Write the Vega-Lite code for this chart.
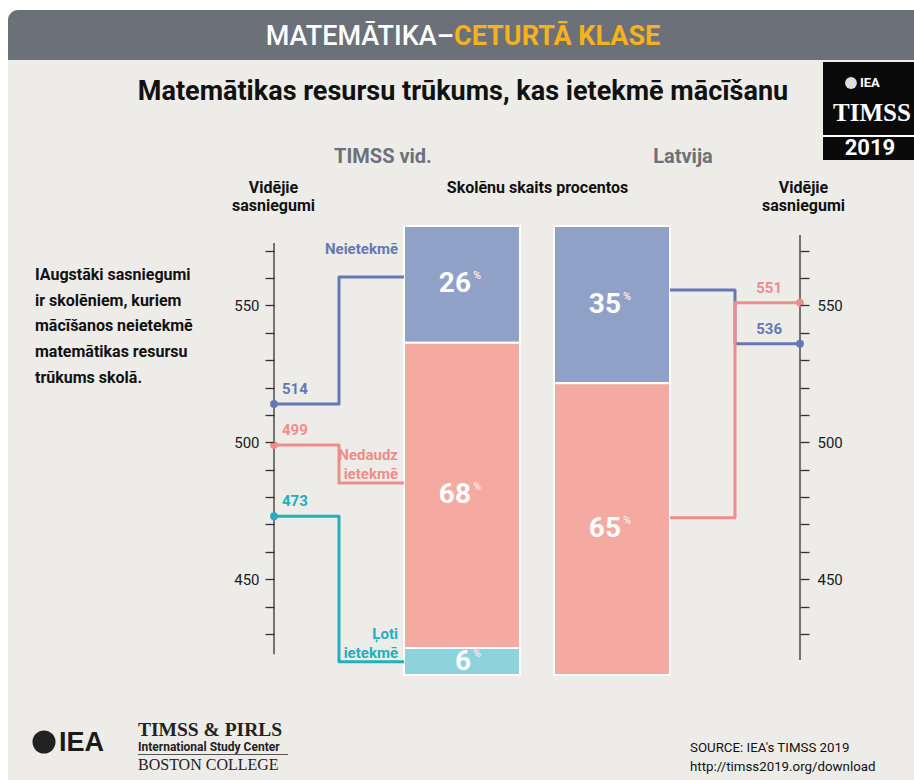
{
  "$schema": "https://vega.github.io/schema/vega-lite/v6.json",
  "width": 526,
  "height": 449,
  "autosize": {"type": "none"},
  "padding": {"left": 274, "top": 226, "right": 114, "bottom": 105},
  "background": "#ffffff",
  "config": {"view": {"stroke": null}, "font": "Roboto", "axis": {"labelFont": "Roboto", "titleFont": "Roboto", "zindex": 1}},
  "datasets": {
    "groups": [
      {"group": "TIMSS vid.", "category": "Neietekmē", "level": 0, "pct": 26, "score": 514, "anchor": 560.4},
      {"group": "TIMSS vid.", "category": "Nedaudz ietekmē", "level": 1, "pct": 68, "score": 499, "anchor": 485.1},
      {"group": "TIMSS vid.", "category": "Ļoti ietekmē", "level": 2, "pct": 6, "score": 473, "anchor": 419.8},
      {"group": "Latvija", "category": "Neietekmē", "level": 0, "pct": 35, "score": 536, "anchor": 555.6},
      {"group": "Latvija", "category": "Nedaudz ietekmē", "level": 1, "pct": 65, "score": 551, "anchor": 472.4}
    ]
  },
  "resolve": {"scale": {"x": "independent", "y": "independent", "color": "independent"}},
  "layer": [
    {"data": {"values": [{}]}, "mark": {"type": "rect", "x": -266, "x2": 640, "y": -166, "y2": 554, "color": "#edece8"}, "encoding": {}},
    {"data": {"values": [{}]}, "mark": {"type": "rect", "x": -266, "x2": 640, "y": -216, "y2": -166, "color": "#6c7079", "cornerRadiusTopLeft": 10}, "encoding": {}},
    {"data": {"values": [{}]}, "mark": {"type": "text", "x": 180, "y": -189, "align": "right", "baseline": "middle", "text": "MATEMĀTIKA–", "color": "#ffffff", "fontSize": 27, "fontWeight": 500}, "encoding": {}},
    {"data": {"values": [{}]}, "mark": {"type": "text", "x": 180, "y": -189, "align": "left", "baseline": "middle", "text": "CETURTĀ KLASE", "color": "#f5b21d", "fontSize": 27, "fontWeight": "bold"}, "encoding": {}},
    {"data": {"values": [{}]}, "mark": {"type": "text", "x": 189, "y": -134, "align": "center", "baseline": "middle", "text": "Matemātikas resursu trūkums, kas ietekmē mācīšanu", "color": "#111111", "fontSize": 27, "fontWeight": "bold"}, "encoding": {}},
    {"data": {"values": [{}]}, "mark": {"type": "rect", "x": 549, "x2": 640, "y": -164, "y2": -66, "color": "#0a0a0a"}, "encoding": {}},
    {"data": {"values": [{}]}, "mark": {"type": "rect", "x": 549, "x2": 640, "y": -91, "y2": -89, "color": "#ffffff"}, "encoding": {}},
    {"data": {"values": [{}]}, "mark": {"type": "point", "shape": "circle", "filled": true, "size": 140, "opacity": 1, "x": 577, "y": -143, "color": "#dddddd"}, "encoding": {}},
    {"data": {"values": [{}]}, "mark": {"type": "text", "x": 586, "y": -143, "align": "left", "baseline": "middle", "text": "IEA", "color": "#ffffff", "fontSize": 13, "fontWeight": "bold"}, "encoding": {}},
    {"data": {"values": [{}]}, "mark": {"type": "text", "x": 598, "y": -113, "align": "center", "baseline": "middle", "text": "TIMSS", "font": "Liberation Serif", "color": "#ffffff", "fontSize": 25, "fontWeight": "bold"}, "encoding": {}},
    {"data": {"values": [{}]}, "mark": {"type": "text", "x": 596, "y": -78, "align": "center", "baseline": "middle", "text": "2019", "color": "#ffffff", "fontSize": 22, "fontWeight": "bold"}, "encoding": {}},
    {"data": {"values": [{}]}, "mark": {"type": "text", "x": -239, "y": 49, "align": "left", "baseline": "middle", "lineHeight": 25.7, "text": ["IAugstāki sasniegumi", "ir skolēniem, kuriem", "mācīšanos neietekmē", "matemātikas resursu", "trūkums skolā."], "color": "#111111", "fontSize": 16, "fontWeight": "bold"}, "encoding": {}},
    {"data": {"values": [{}]}, "mark": {"type": "point", "shape": "circle", "filled": true, "size": 530, "opacity": 1, "x": -230, "y": 516, "color": "#222222"}, "encoding": {}},
    {"data": {"values": [{}]}, "mark": {"type": "text", "x": -215, "y": 517, "align": "left", "baseline": "middle", "text": "IEA", "font": "Liberation Sans", "color": "#1a1a1a", "fontSize": 27, "fontWeight": "bold"}, "encoding": {}},
    {"data": {"values": [{}]}, "mark": {"type": "text", "x": -136, "y": 504, "align": "left", "baseline": "middle", "text": "TIMSS & PIRLS", "font": "Liberation Serif", "color": "#222222", "fontSize": 19.5, "fontWeight": "bold"}, "encoding": {}},
    {"data": {"values": [{}]}, "mark": {"type": "text", "x": -136, "y": 521, "align": "left", "baseline": "middle", "text": "International Study Center", "color": "#222222", "fontSize": 12, "fontWeight": "bold"}, "encoding": {}},
    {"data": {"values": [{}]}, "mark": {"type": "rect", "x": -136, "x2": 14, "y": 528, "y2": 529, "color": "#555555"}, "encoding": {}},
    {"data": {"values": [{}]}, "mark": {"type": "text", "x": -136, "y": 539, "align": "left", "baseline": "middle", "text": "BOSTON COLLEGE", "font": "Liberation Serif", "color": "#222222", "fontSize": 16}, "encoding": {}},
    {"data": {"values": [{}]}, "mark": {"type": "text", "x": 416, "y": 522, "align": "left", "baseline": "middle", "lineHeight": 19, "text": ["SOURCE: IEA's TIMSS 2019", "http://timss2019.org/download"], "color": "#111111", "fontSize": 13.3}, "encoding": {}},
    {
      "data": {"name": "groups"},
      "transform": [{"stack": "pct", "groupby": ["group"], "sort": [{"field": "level", "order": "descending"}], "as": ["p0", "p1"]}],
      "layer": [
        {
          "mark": {"type": "bar", "stroke": "#ffffff", "strokeWidth": 2},
          "encoding": {
            "x": {"field": "group", "type": "nominal", "scale": {"type": "band", "domain": ["TIMSS vid.", "Latvija"], "paddingInner": 0.2267, "paddingOuter": 0.8667},
              "axis": {"orient": "top", "title": "Skolēnu skaits procentos", "domain": false, "ticks": false, "grid": false, "labelAngle": 0, "labelFontSize": 20, "labelFontWeight": "bold", "labelColor": "#6e7179", "labelPadding": 70, "labelBaseline": "middle", "labelOffset": {"condition": {"test": "datum.value === 'Latvija'", "value": 71}, "value": -79}, "titleFontSize": 16, "titleFontWeight": "bold", "titleColor": "#111111", "titleX": 263, "titleY": -39, "titleBaseline": "middle", "titleAlign": "center", "zindex": 1}},
            "y": {"field": "p0", "type": "quantitative", "scale": {"domain": [0, 100], "nice": false}, "axis": null},
            "y2": {"field": "p1"},
            "color": {"field": "category", "type": "nominal", "scale": {"domain": ["Neietekmē", "Nedaudz ietekmē", "Ļoti ietekmē"], "range": ["#8fa1c7", "#f4a9a1", "#8ed2dc"]}, "legend": null}
          }
        },
        {
          "transform": [{"fold": ["p0", "p1"], "as": ["edge", "p"]}],
          "mark": {"type": "text", "align": "right", "baseline": "middle", "dx": 9, "color": "#ffffff", "fontSize": 28, "fontWeight": "bold"},
          "encoding": {
            "x": {"field": "group", "type": "nominal"},
            "y": {"aggregate": "mean", "field": "p", "type": "quantitative"},
            "text": {"field": "pct", "type": "quantitative"},
            "detail": {"field": "category", "type": "nominal"}
          }
        },
        {
          "transform": [{"fold": ["p0", "p1"], "as": ["edge", "p"]}],
          "mark": {"type": "text", "align": "left", "baseline": "middle", "dx": 11, "dy": -8, "color": "#fbe4e0", "fontSize": 11, "fontWeight": "bold", "text": "%"},
          "encoding": {
            "x": {"field": "group", "type": "nominal"},
            "y": {"aggregate": "mean", "field": "p", "type": "quantitative"},
            "detail": {"field": "category", "type": "nominal"}
          }
        }
      ]
    },
    {
      "data": {"name": "groups"},
      "transform": [{"filter": "datum.group === 'TIMSS vid.'"}, {"fold": ["score", "anchor"], "as": ["end", "value"]}],
      "encoding": {
        "x": {"field": "end", "type": "nominal", "scale": {"type": "point", "domain": ["score", "anchor"], "range": [0, 130], "padding": 0}, "axis": null},
        "y": {"field": "value", "type": "quantitative", "scale": {"domain": [415, 579], "nice": false, "zero": false},
          "axis": {"orient": "left", "zindex": 1, "values": [430, 440, 450, 460, 470, 480, 490, 500, 510, 520, 530, 540, 550, 560, 570], "labelExpr": "datum.value % 50 === 0 ? datum.label : ''", "domain": false, "grid": false, "tickSize": 9, "tickColor": "#333333", "tickWidth": 1.3, "labelFontSize": 15, "labelColor": "#1a1a1a", "labelPadding": 6, "title": ["Vidējie", "sasniegumi"], "titleAngle": 0, "titleAlign": "center", "titleBaseline": "middle", "titleX": -1, "titleY": -39, "titleFontSize": 16, "titleFontWeight": "bold", "titleColor": "#111111", "titleLineHeight": 18}},
        "color": {"field": "category", "type": "nominal", "scale": {"domain": ["Neietekmē", "Nedaudz ietekmē", "Ļoti ietekmē"], "range": ["#6479b3", "#ef8d8a", "#22afbf"]}, "legend": null}
      },
      "layer": [
        {"transform": [{"filter": "datum.end === 'score' && datum.level === 0"}], "mark": {"type": "rule", "strokeWidth": 1.3}, "encoding": {"x": {"datum": "score"}, "y": {"datum": 422.6}, "y2": {"datum": 572.8}, "color": {"value": "#333333"}}},
        {"mark": {"type": "line", "interpolate": "step", "strokeWidth": 3, "strokeJoin": "round"}},
        {"transform": [{"filter": "datum.end === 'score'"}], "mark": {"type": "circle", "size": 60, "opacity": 1}},
        {"transform": [{"filter": "datum.end === 'score'"}], "mark": {"type": "text", "align": "left", "baseline": "middle", "dx": 8, "dy": -15, "fontSize": 15, "fontWeight": "bold"}, "encoding": {"text": {"field": "value", "type": "quantitative"}}},
        {"transform": [{"filter": "datum.end === 'anchor'"}], "mark": {"type": "text", "align": "right", "baseline": "middle", "dx": -6, "dy": -28, "fontSize": 15, "fontWeight": "bold", "lineBreak": " ", "lineHeight": 19}, "encoding": {"text": {"field": "category", "type": "nominal"}}}
      ]
    },
    {
      "data": {"name": "groups"},
      "transform": [{"filter": "datum.group === 'Latvija'"}, {"fold": ["score", "anchor"], "as": ["end", "value"]}],
      "encoding": {
        "x": {"field": "end", "type": "nominal", "scale": {"type": "point", "domain": ["anchor", "score"], "range": [396, 526], "padding": 0}, "axis": null},
        "y": {"field": "value", "type": "quantitative", "scale": {"domain": [415, 579], "nice": false, "zero": false},
          "axis": {"orient": "right", "zindex": 1, "values": [430, 440, 450, 460, 470, 480, 490, 500, 510, 520, 530, 540, 550, 560, 570], "labelExpr": "datum.value % 50 === 0 ? datum.label : ''", "domain": false, "grid": false, "tickSize": 9, "tickColor": "#333333", "tickWidth": 1.3, "labelFontSize": 15, "labelColor": "#1a1a1a", "labelPadding": 8, "title": ["Vidējie", "sasniegumi"], "titleAngle": 0, "titleAlign": "center", "titleBaseline": "middle", "titleX": 3, "titleY": -39, "titleFontSize": 16, "titleFontWeight": "bold", "titleColor": "#111111", "titleLineHeight": 18}},
        "color": {"field": "category", "type": "nominal", "scale": {"domain": ["Neietekmē", "Nedaudz ietekmē", "Ļoti ietekmē"], "range": ["#6479b3", "#ef8d8a", "#22afbf"]}, "legend": null}
      },
      "layer": [
        {"transform": [{"filter": "datum.end === 'score' && datum.level === 0"}], "mark": {"type": "rule", "strokeWidth": 1.3}, "encoding": {"x": {"datum": "score"}, "y": {"datum": 420.5}, "y2": {"datum": 575.7}, "color": {"value": "#333333"}}},
        {"mark": {"type": "line", "interpolate": "step", "strokeWidth": 3, "strokeJoin": "round"}},
        {"transform": [{"filter": "datum.end === 'score'"}], "mark": {"type": "circle", "size": 60, "opacity": 1}},
        {"transform": [{"filter": "datum.end === 'score'"}], "mark": {"type": "text", "align": "right", "baseline": "middle", "dx": -18, "dy": -15, "fontSize": 15, "fontWeight": "bold"}, "encoding": {"text": {"field": "value", "type": "quantitative"}}}
      ]
    }
  ]
}
